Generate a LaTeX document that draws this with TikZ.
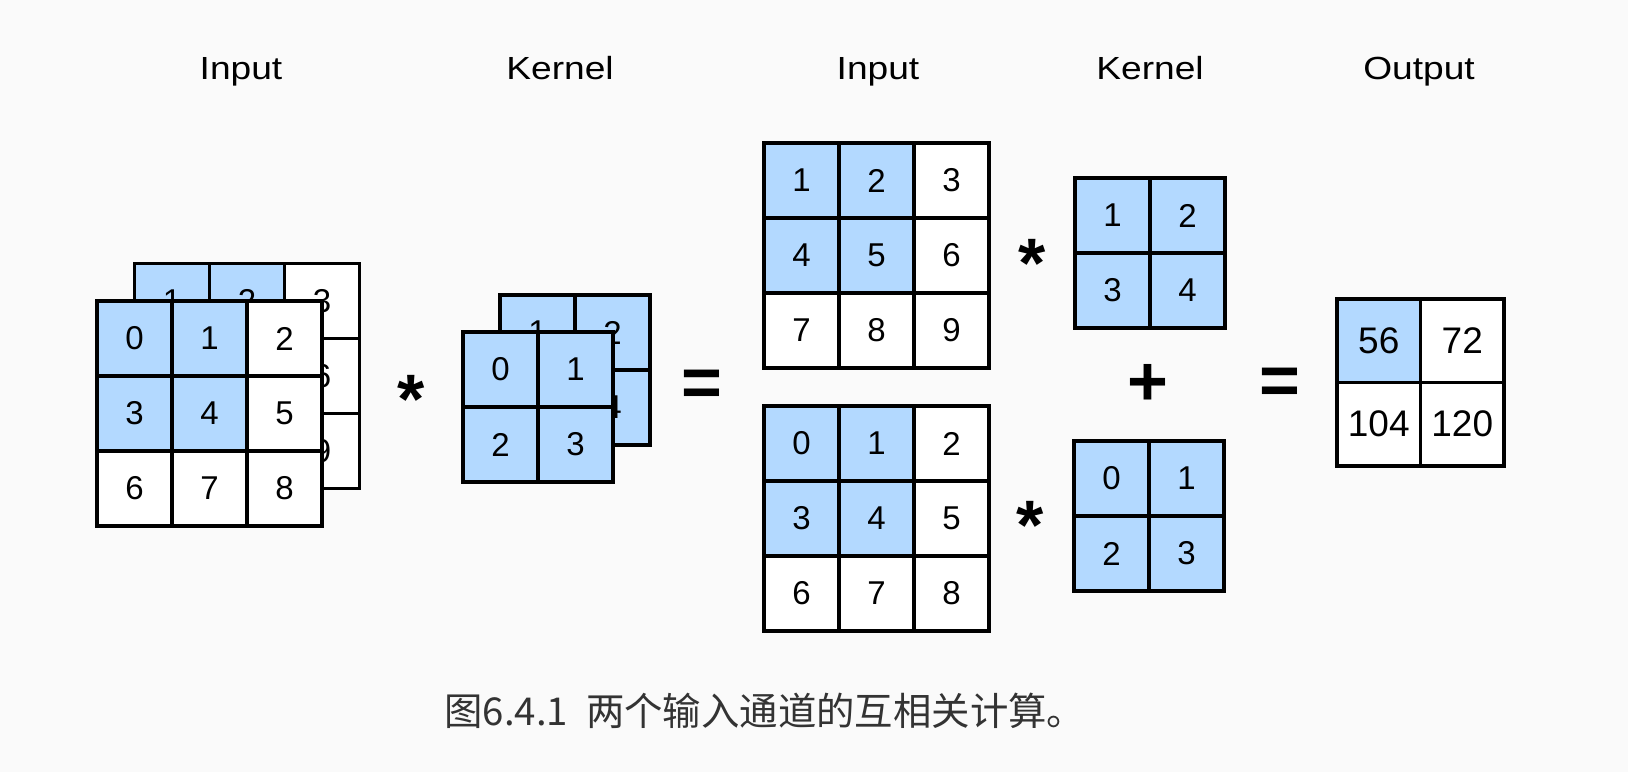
\documentclass[tikz,border=0pt]{standalone}
\usepackage{fontspec}
\setmainfont{Liberation Sans}
\newfontfamily\cjk{Noto Sans CJK SC}
\definecolor{cb}{RGB}{179,217,255}
\definecolor{bg}{RGB}{250,250,250}
\definecolor{captc}{RGB}{51,51,51}
\newcommand\mkgrid[5]{%
  \foreach \v/\f [count=\i from 0] in {#5} {
    \pgfmathtruncatemacro\rr{floor(\i/#4)}
    \pgfmathtruncatemacro\cc{mod(\i,#4)}
    \node[cell=\f] (#1-\rr\cc) at ({#2+37.5+75*\cc},{#3+37.5+75*\rr}) {\v};
  }}
\newcommand\wide[1]{\scalebox{1.16}[1]{#1}}
\begin{document}
\begin{tikzpicture}[x=0.5pt,y=-0.5pt,
  cell/.style={draw=black, line width=1.55pt, minimum size=37.5pt, inner sep=0pt, fill=#1, font=\fontsize{16.5pt}{18pt}\selectfont},
  cell/.default=white,
  ocell/.style={cell=#1, minimum size=41.75pt, font=\fontsize{18.5pt}{20pt}\selectfont},
  title/.style={anchor=base, inner sep=0pt, font=\fontsize{16pt}{18pt}\selectfont},
  op/.style={anchor=base, inner sep=0pt, font=\fontsize{35pt}{40pt}\selectfont\bfseries}]
\fill[bg] (0,0) rectangle (1628,772);
\useasboundingbox (0,0) rectangle (1628,772);
% titles
\node[title] (t1) at (241,79) {\wide{Input}};
\node[title] (t2) at (560,79) {\wide{Kernel}};
\node[title] (t3) at (878,79) {\wide{Input}};
\node[title] (t4) at (1150,79) {\wide{Kernel}};
\node[title] (t5) at (1419,79) {\wide{Output}};
% left stacked input
\mkgrid{lb}{134.5}{263.5}{3}{1/cb,2/cb,3/white,4/cb,5/cb,6/white,7/white,8/white,9/white}
\mkgrid{lf}{97}{301}{3}{0/cb,1/cb,2/white,3/cb,4/cb,5/white,6/white,7/white,8/white}
% left stacked kernel
\mkgrid{kb}{500}{295}{2}{1/cb,2/cb,3/cb,4/cb}
\mkgrid{kf}{463}{332}{2}{0/cb,1/cb,2/cb,3/cb}
% middle inputs
\mkgrid{mt}{764}{143}{3}{1/cb,2/cb,3/white,4/cb,5/cb,6/white,7/white,8/white,9/white}
\mkgrid{mb}{764}{406}{3}{0/cb,1/cb,2/white,3/cb,4/cb,5/white,6/white,7/white,8/white}
% middle kernels
\mkgrid{nt}{1075}{178}{2}{1/cb,2/cb,3/cb,4/cb}
\mkgrid{nb}{1074}{441}{2}{0/cb,1/cb,2/cb,3/cb}
% output
\node[ocell=cb] (o-00) at (1378.75,340.75) {56};
\node[ocell] (o-01) at (1462.25,340.75) {72};
\node[ocell] (o-10) at (1378.75,424.25) {104};
\node[ocell] (o-11) at (1462.25,424.25) {120};
% operators
\node[op] (s1) at (411,423) {*};
\node[op] (e1) at (702,406.5) {=};
\node[op] (s2) at (1032,287) {*};
\node[op] (s3) at (1030,549) {*};
\node[op] (p1) at (1148,405.5) {+};
\node[op] (e2) at (1280,404) {=};
% caption
\node[anchor=base west, inner sep=0pt, text=captc, font=\cjk\fontsize{19.2pt}{22pt}\selectfont] (cap) at (444,725) {图6.4.1\hspace{9pt}两个输入通道的互相关计算。};
\end{tikzpicture}
\end{document}
